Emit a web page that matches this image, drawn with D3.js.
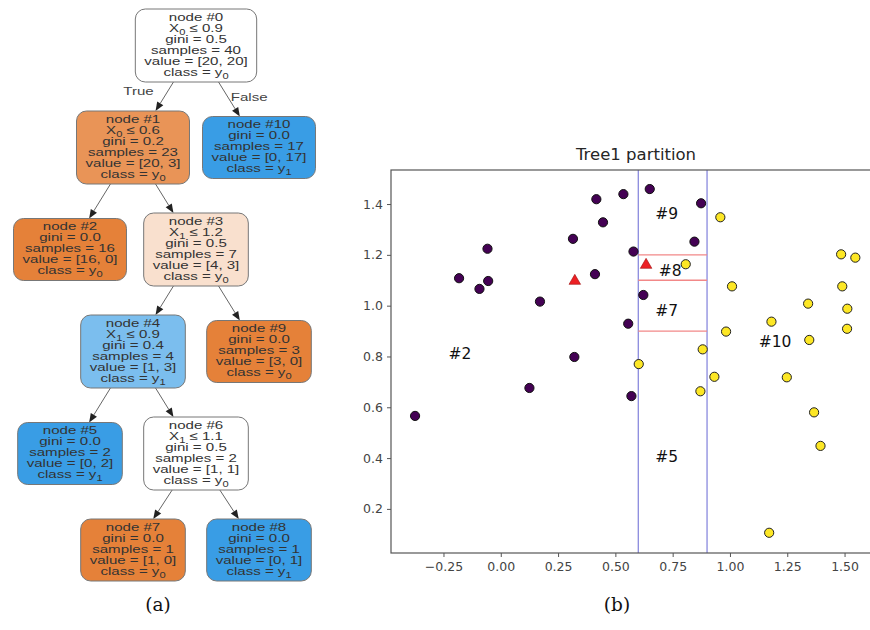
<!DOCTYPE html>
<html><head><meta charset="utf-8">
<script src="https://cdn.jsdelivr.net/npm/d3@7"></script>
<style>body{margin:0;background:#fff}svg{display:block}</style>
</head><body>
<svg id="c" width="870" height="630"></svg>
<script>
// ---------------- Decision tree data ----------------
const nodeIds       = [0, 1, 2, 3, 4, 5, 6, 7, 8, 9, 10];
const nodeParent    = [null, 0, 1, 1, 3, 4, 4, 6, 6, 3, 0];
const nodeFeature   = [0, 0, null, 1, 1, null, 1, null, null, null, null];
const nodeThreshold = [0.9, 0.6, null, 1.2, 0.9, null, 1.1, null, null, null, null];
const nodeGini      = [0.5, 0.2, 0.0, 0.5, 0.4, 0.0, 0.5, 0.0, 0.0, 0.0, 0.0];
const nodeSamples   = [40, 23, 16, 7, 4, 2, 2, 1, 1, 3, 17];
const nodeValue     = [[20,20],[20,3],[16,0],[4,3],[1,3],[0,2],[1,1],[1,0],[0,1],[3,0],[0,17]];
const nodeClass     = [0, 0, 0, 0, 1, 1, 0, 0, 1, 0, 1];
const nodeColumn    = [2, 1, 0, 2, 1, 0, 2, 1, 3, 3, 3];
const edgeLabels    = {"0-1": "True", "0-10": "False"};

// ---------------- Scatter data ----------------
const class0X = [-0.374, -0.182, -0.093, -0.055, -0.058, 0.171, 0.315, 0.321, 0.411, 0.417, 0.446, 0.125, 0.570, 0.535, 0.650, 0.874, 0.845, 0.579, 0.622, 0.556];
const class0Y = [0.566, 1.108, 1.066, 1.097, 1.224, 1.016, 1.263, 0.798, 1.124, 1.419, 1.328, 0.676, 0.644, 1.439, 1.459, 1.403, 1.252, 1.213, 1.042, 0.929];
const class1X = [0.958, 0.807, 1.009, 1.485, 1.547, 1.490, 1.341, 1.512, 1.181, 0.983, 1.511, 1.346, 0.881, 0.602, 0.932, 1.248, 0.871, 1.367, 1.395, 1.171];
const class1Y = [1.348, 1.163, 1.076, 1.202, 1.189, 1.076, 1.008, 0.988, 0.937, 0.898, 0.909, 0.865, 0.828, 0.770, 0.720, 0.718, 0.663, 0.580, 0.448, 0.106];
const testX = [0.323, 0.634];
const testY = [1.097, 1.160];
const splitX = [0.6, 0.9];
const splitY = [1.2, 1.1, 0.9];
const regionLabels = ["#2", "#9", "#8", "#7", "#10", "#5"];
const regionX = [-0.178, 0.724, 0.739, 0.724, 1.197, 0.724];
const regionY = [0.810, 1.361, 1.137, 0.980, 0.858, 0.403];
const xTicks = [-0.25, 0, 0.25, 0.5, 0.75, 1.0, 1.25, 1.5];
const yTicks = [0.2, 0.4, 0.6, 0.8, 1.0, 1.2, 1.4];
const chartTitle = "Tree1 partition";
const captions = ["(a)", "(b)"];

const svg = d3.select("#c");

// ================= Panel (a): tree =================
const classRGB = [[229,129,57],[57,157,229]];
function nodeColor(i) {
  const v = nodeValue[i], tot = v[0] + v[1];
  const f = v.map(d => d / tot).sort((a,b) => b - a);
  const alpha = f[1] === 1 ? 1 : (f[0] - f[1]) / (1 - f[1]);
  const c = classRGB[nodeClass[i]];
  return d3.rgb(...c.map(k => Math.round(alpha * k + (1 - alpha) * 255))).formatHex();
}
const depth = nodeIds.map(i => { let d = 0, p = nodeParent[i]; while (p !== null) { d++; p = nodeParent[p]; } return d; });
const lineH = 11, sx = 1.31, fontTree = 11.5;
const nLines = nodeIds.map(i => nodeFeature[i] !== null ? 6 : 5);
const boxH = nLines.map(n => n * lineH + 7);
const maxDepth = d3.max(depth);
const rankH = d3.range(maxDepth + 1).map(d => d3.max(nodeIds.filter(i => depth[i] === d), i => boxH[i]));
const rankC = [];
rankH.forEach((h, d) => { rankC[d] = d === 0 ? 9 + h / 2 : rankC[d-1] + rankH[d-1] / 2 + 29 + h / 2; });
const colX = d3.scaleLinear().domain([0, 3]).range([70, 259]);

const treeG = svg.append("g");
const edgeG = treeG.append("g");
const nodeG = treeG.append("g");

function addLine(text, parts) {
  let shift = 0;
  parts.forEach(p => {
    if (p.sub !== undefined) {
      text.append("tspan").attr("font-size", 8.5).attr("dy", 3).text(p.sub);
      shift = -3;
    } else {
      const ts = text.append("tspan").text(p.t);
      if (shift) { ts.attr("dy", shift); shift = 0; }
    }
  });
}

const boxes = {};
nodeIds.forEach(i => {
  const cx = colX(nodeColumn[i]);
  const cy = rankC[depth[i]];
  const h = boxH[i];
  const top = cy - h / 2;
  const g = nodeG.append("g");
  const rect = g.append("rect");
  const tg = g.append("g").attr("transform", `translate(${cx},0) scale(${sx},1)`)
    .attr("font-family", "'Liberation Sans', Arial, sans-serif")
    .attr("font-size", fontTree).attr("fill", "#333").attr("text-anchor", "middle");
  const lines = [];
  lines.push([{t: "node #" + i}]);
  if (nodeFeature[i] !== null) lines.push([{t: "X"}, {sub: String(nodeFeature[i])}, {t: " ≤ " + nodeThreshold[i].toFixed(1)}]);
  lines.push([{t: "gini = " + nodeGini[i].toFixed(1)}]);
  lines.push([{t: "samples = " + nodeSamples[i]}]);
  lines.push([{t: "value = [" + nodeValue[i].join(", ") + "]"}]);
  lines.push([{t: "class = y"}, {sub: String(nodeClass[i])}]);
  let maxW = 0;
  lines.forEach((parts, k) => {
    const t = tg.append("text").attr("x", 0).attr("y", top + 11.7 + lineH * k);
    addLine(t, parts);
    maxW = Math.max(maxW, t.node().getBBox().width);
  });
  const w = maxW * sx + 18;
  rect.attr("x", cx - w / 2).attr("y", top).attr("width", w).attr("height", h)
    .attr("rx", 10).attr("ry", 10).attr("fill", nodeColor(i))
    .attr("stroke", "#777").attr("stroke-width", 1);
  boxes[i] = {cx, cy, top, bottom: top + h};
});

nodeIds.filter(i => nodeParent[i] !== null).forEach(i => {
  const p = boxes[nodeParent[i]], c = boxes[i];
  const dx = c.cx - p.cx, dy = c.cy - p.cy;
  const t0 = (p.bottom - p.cy) / dy, t1 = (c.top - p.cy) / dy;
  const x0 = p.cx + dx * t0, y0 = p.bottom, x1 = p.cx + dx * t1, y1 = c.top;
  const len = Math.hypot(x1 - x0, y1 - y0);
  const ux = (x1 - x0) / len, uy = (y1 - y0) / len;
  const al = 9, aw = 3.6;
  const bx = x1 - ux * al, by = y1 - uy * al;
  edgeG.append("line").attr("x1", x0).attr("y1", y0).attr("x2", bx).attr("y2", by)
    .attr("stroke", "#666").attr("stroke-width", 1);
  edgeG.append("path")
    .attr("d", `M${x1},${y1}L${bx - uy * aw},${by + ux * aw}L${bx + uy * aw},${by - ux * aw}Z`)
    .attr("fill", "#222");
  const key = nodeParent[i] + "-" + i;
  if (edgeLabels[key]) {
    const mx = (x0 + x1) / 2, my = (y0 + y1) / 2;
    const left = dx < 0;
    edgeG.append("g").attr("transform", `translate(${mx + (left ? -26 : 20)},${my + (left ? -2 : 1.5)}) scale(${sx},1)`)
      .append("text").attr("text-anchor", "middle")
      .attr("font-family", "'Liberation Sans', Arial, sans-serif").attr("font-size", fontTree)
      .attr("fill", "#444").text(edgeLabels[key]);
  }
});

// ================= Panel (b): scatter =================
const x = d3.scaleLinear().domain([-0.479, 1.659]).range([391, 881]);
const y = d3.scaleLinear().domain([0.0264, 1.534]).range([553, 170]);
const plot = svg.append("g");

plot.selectAll(".vs").data(splitX).join("line")
  .attr("x1", d => x(d)).attr("x2", d => x(d)).attr("y1", y.range()[0]).attr("y2", y.range()[1])
  .attr("stroke", "#8a8ade").attr("stroke-width", 1.3);
plot.selectAll(".hs").data(splitY).join("line")
  .attr("x1", x(splitX[0])).attr("x2", x(splitX[1])).attr("y1", d => y(d)).attr("y2", d => y(d))
  .attr("stroke", "#f28888").attr("stroke-width", 1.3);

const axisColor = "#555";
const xAxis = plot.append("g").attr("transform", `translate(0,${y.range()[0]})`)
  .call(d3.axisBottom(x).tickValues(xTicks).tickSize(4).tickPadding(5)
    .tickFormat(d => d3.format(".2f")(d).replace("-", "−")));
const yAxis = plot.append("g").attr("transform", `translate(${x.range()[0]},0)`)
  .call(d3.axisLeft(y).tickValues(yTicks).tickSize(4).tickPadding(4).tickFormat(d3.format(".1f")));
[xAxis, yAxis].forEach(a => {
  a.select(".domain").remove();
  a.selectAll(".tick line").attr("stroke", axisColor).attr("stroke-width", 1);
  a.selectAll(".tick text").attr("fill", "#444").attr("font-family", "'DejaVu Sans', sans-serif").attr("font-size", 12.5);
});
plot.append("rect").attr("x", x.range()[0]).attr("y", y.range()[1])
  .attr("width", x.range()[1] - x.range()[0]).attr("height", y.range()[0] - y.range()[1])
  .attr("fill", "none").attr("stroke", axisColor).attr("stroke-width", 1.2);

plot.selectAll(".p0").data(d3.range(class0X.length)).join("circle")
  .attr("cx", i => x(class0X[i])).attr("cy", i => y(class0Y[i])).attr("r", 4.6)
  .attr("fill", "#440154").attr("stroke", "#111").attr("stroke-width", 1);
plot.selectAll(".p1").data(d3.range(class1X.length)).join("circle")
  .attr("cx", i => x(class1X[i])).attr("cy", i => y(class1Y[i])).attr("r", 4.6)
  .attr("fill", "#fde725").attr("stroke", "#222").attr("stroke-width", 1);
plot.selectAll(".tp").data(d3.range(testX.length)).join("path")
  .attr("d", d3.symbol(d3.symbolTriangle, 58))
  .attr("transform", i => `translate(${x(testX[i])},${y(testY[i])})`)
  .attr("fill", "#ec2024").attr("stroke", "#a01010").attr("stroke-width", 0.6);

plot.selectAll(".rl").data(d3.range(regionLabels.length)).join("text")
  .attr("x", i => x(regionX[i])).attr("y", i => y(regionY[i]))
  .attr("text-anchor", "middle").attr("dominant-baseline", "central")
  .attr("font-family", "'DejaVu Sans', sans-serif").attr("font-size", 15.5).attr("fill", "#111")
  .text(i => regionLabels[i]);

svg.append("text").attr("x", (x.range()[0] + x.range()[1]) / 2).attr("y", 160)
  .attr("text-anchor", "middle").attr("font-family", "'DejaVu Sans', sans-serif")
  .attr("font-size", 16.5).attr("fill", "#262626").text(chartTitle);

svg.selectAll(".cap").data(captions).join("text")
  .attr("x", (d, i) => [158, 617][i]).attr("y", 611)
  .attr("text-anchor", "middle").attr("font-family", "'DejaVu Serif', 'Liberation Serif', serif")
  .attr("font-size", 18.5).attr("fill", "#111").text(d => d);
</script>
</body></html>
